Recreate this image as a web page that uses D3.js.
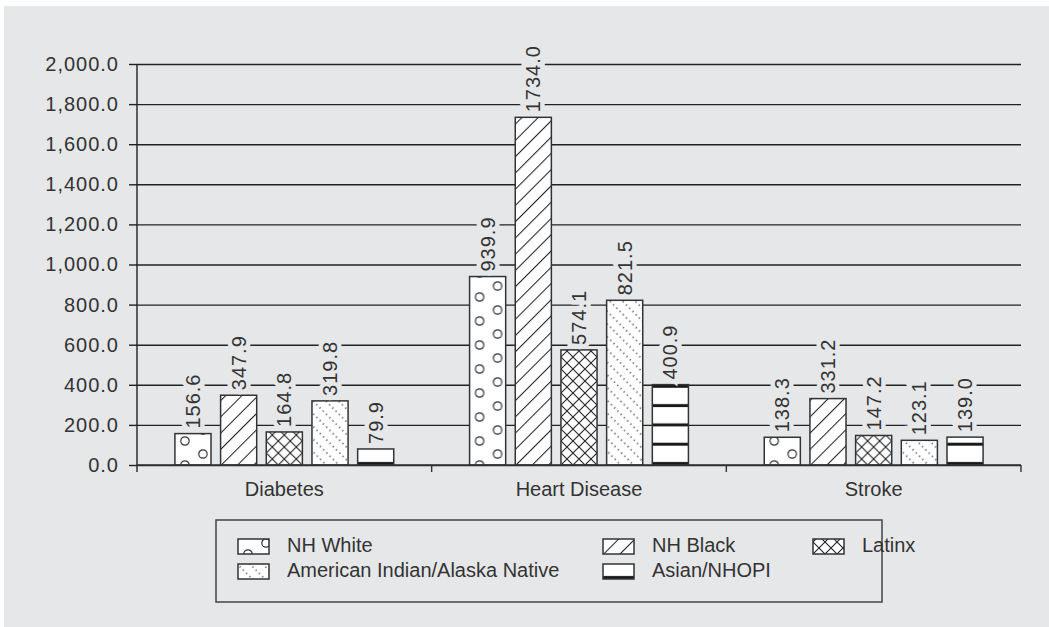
<!DOCTYPE html>
<html>
<head>
<meta charset="utf-8">
<script src="https://cdn.jsdelivr.net/npm/d3@7"></script>
<style>
    body { margin: 0; background: #fff; }
    svg { display: block; font-family: "Liberation Sans", Arial, sans-serif; }
    .tick text { fill: #333; }
</style>
</head>
<body>
<div id="chart"></div>
<script>
// chart data
var categories = ["Diabetes", "Heart Disease", "Stroke"];
var seriesNames = ["NH White", "NH Black", "Latinx", "American Indian/Alaska Native", "Asian/NHOPI"];
var nhWhite = [156.6, 939.9, 138.3];
var nhBlack = [347.9, 1734.0, 331.2];
var latinx = [164.8, 574.1, 147.2];
var aian = [319.8, 821.5, 123.1];
var asianNhopi = [79.9, 400.9, 139.0];
var seriesValues = [nhWhite, nhBlack, latinx, aian, asianNhopi];
var yTicks = [0, 200, 400, 600, 800, 1000, 1200, 1400, 1600, 1800, 2000];

// dimensions
var W = 1049, H = 627;
var bg = "#e6e7e9", ink = "#333";
var plot = { left: 137, right: 1021, top: 64, bottom: 465 };

var svg = d3.select("#chart").append("svg")
    .attr("width", W)
    .attr("height", H);

// grey panel
svg.append("rect")
    .attr("x", 4).attr("y", 6)
    .attr("width", W - 4).attr("height", H - 6)
    .attr("fill", bg);

// patterns (each bar's group origin sits on the baseline, so tiles line up from the bottom)
var defs = svg.append("defs");

var pWhite = defs.append("pattern").attr("id", "p0")
    .attr("patternUnits", "userSpaceOnUse").attr("width", 36).attr("height", 24);
pWhite.append("rect").attr("width", 36).attr("height", 24).attr("fill", "#fff");
[[10, 0], [10, 24], [28, 13]].forEach(function (c) {
    pWhite.append("circle").attr("cx", c[0]).attr("cy", c[1]).attr("r", 4.2)
        .attr("fill", "none").attr("stroke", "#333").attr("stroke-width", 1.2);
});

var pBlack = defs.append("pattern").attr("id", "p1")
    .attr("patternUnits", "userSpaceOnUse").attr("width", 11.5).attr("height", 10)
    .attr("patternTransform", "rotate(45)");
pBlack.append("rect").attr("width", 11.5).attr("height", 10).attr("fill", "#fff");
pBlack.append("line").attr("x1", 0.5).attr("x2", 0.5).attr("y1", 0).attr("y2", 10)
    .attr("stroke", "#222").attr("stroke-width", 1.1);

var pLat = defs.append("pattern").attr("id", "p2")
    .attr("patternUnits", "userSpaceOnUse").attr("width", 12).attr("height", 12);
pLat.append("rect").attr("width", 12).attr("height", 12).attr("fill", "#fff");
pLat.append("path").attr("d", "M0,0L12,12M12,0L0,12")
    .attr("stroke", "#222").attr("stroke-width", 1.1);

var pDots = defs.append("pattern").attr("id", "p3")
    .attr("patternUnits", "userSpaceOnUse").attr("width", 9).attr("height", 4.6)
    .attr("patternTransform", "rotate(-45)");
pDots.append("rect").attr("width", 9).attr("height", 4.6).attr("fill", "#fff");
pDots.append("rect").attr("x", 0.4).attr("y", 1.5).attr("width", 1.3).attr("height", 1.3)
    .attr("fill", "#333");

var pBand = defs.append("pattern").attr("id", "p4")
    .attr("patternUnits", "userSpaceOnUse").attr("width", 10).attr("height", 19.3);
pBand.append("rect").attr("width", 10).attr("height", 19.3).attr("fill", "#fff");
pBand.append("rect").attr("y", 16.3).attr("width", 10).attr("height", 3).attr("fill", "#1a1a1a");

// scales
var x0 = d3.scaleBand()
    .domain(categories)
    .range([plot.left, plot.right]);

var x1 = d3.scaleBand()
    .domain(seriesNames)
    .range([0, x0.bandwidth()])
    .paddingInner(0.21)
    .paddingOuter(0.83);

var y = d3.scaleLinear()
    .domain([0, 2000])
    .range([plot.bottom, plot.top]);

// gridlines
svg.append("g")
    .attr("transform", "translate(" + plot.left + ",0)")
    .call(d3.axisLeft(y).tickValues(yTicks).tickSize(-(plot.right - plot.left)).tickFormat(""))
    .call(function (g) { g.select(".domain").remove(); })
    .selectAll("line")
    .attr("stroke", "#222")
    .attr("stroke-width", 1.4);

// y axis with labels
var yAxis = svg.append("g")
    .attr("transform", "translate(" + plot.left + ",0)")
    .call(d3.axisLeft(y).tickValues(yTicks).tickSize(8).tickPadding(10).tickFormat(d3.format(",.1f")));
yAxis.select(".domain").remove();
yAxis.selectAll("line").attr("stroke", "#222").attr("stroke-width", 1.4);
yAxis.selectAll("text")
    .attr("font-size", 20)
    .attr("letter-spacing", 1)
    .attr("font-family", "Liberation Sans, Arial, sans-serif");

svg.append("line")
    .attr("x1", plot.left).attr("x2", plot.left)
    .attr("y1", y(2000)).attr("y2", y(0) + 7)
    .attr("stroke", "#222").attr("stroke-width", 1.4);

// bars
var catGroups = svg.selectAll(".cat")
    .data(categories)
    .enter()
    .append("g")
    .attr("class", "cat");

var bars = catGroups.selectAll(".bar")
    .data(function (c, ci) {
        return seriesNames.map(function (s, si) {
            return { cat: c, series: s, si: si, value: seriesValues[si][ci] };
        });
    })
    .enter()
    .append("g")
    .attr("class", "bar")
    .attr("transform", function (d) {
        return "translate(" + (x0(d.cat) + x1(d.series)) + "," + y(0) + ")";
    });

bars.append("rect")
    .attr("x", 0)
    .attr("y", function (d) { return y(d.value) - y(0); })
    .attr("width", x1.bandwidth())
    .attr("height", function (d) { return y(0) - y(d.value); })
    .attr("fill", function (d) { return "url(#p" + d.si + ")"; })
    .attr("stroke", "#333")
    .attr("stroke-width", 1.5);

// value labels, rotated
bars.append("text")
    .attr("transform", function (d) {
        return "translate(" + (x1.bandwidth() / 2) + "," + (y(d.value) - y(0) - 5) + ") rotate(-90)";
    })
    .attr("dy", "0.35em")
    .attr("font-size", 20)
    .attr("letter-spacing", 1)
    .attr("fill", ink)
    .attr("stroke", bg)
    .attr("stroke-width", 9)
    .attr("paint-order", "stroke")
    .text(function (d) { return d3.format(".1f")(d.value); });

// x axis
svg.append("line")
    .attr("x1", plot.left).attr("x2", plot.right)
    .attr("y1", y(0)).attr("y2", y(0))
    .attr("stroke", "#333").attr("stroke-width", 1.4);

var bounds = categories.map(function (c) { return x0(c); }).concat([plot.right]);
svg.selectAll(".xtick")
    .data(bounds.slice(1))
    .enter()
    .append("line")
    .attr("x1", function (d) { return d; }).attr("x2", function (d) { return d; })
    .attr("y1", y(0)).attr("y2", y(0) + 7)
    .attr("stroke", "#333").attr("stroke-width", 1.4);

svg.selectAll(".xlabel")
    .data(categories)
    .enter()
    .append("text")
    .attr("x", function (d) { return x0(d) + x0.bandwidth() / 2; })
    .attr("y", 496)
    .attr("text-anchor", "middle")
    .attr("font-size", 20)
    .attr("fill", ink)
    .text(function (d) { return d; });

// legend
svg.append("rect")
    .attr("x", 216).attr("y", 520)
    .attr("width", 666).attr("height", 82)
    .attr("fill", "none")
    .attr("stroke", "#444")
    .attr("stroke-width", 1.5);

var legendPos = [[238, 554], [603, 554], [813, 554], [238, 579], [603, 579]];

var legend = svg.selectAll(".legend")
    .data(seriesNames)
    .enter()
    .append("g")
    .attr("class", "legend")
    .attr("transform", function (d, i) {
        return "translate(" + legendPos[i][0] + "," + legendPos[i][1] + ")";
    });

legend.append("rect")
    .attr("x", 0).attr("y", -15)
    .attr("width", 31).attr("height", 15)
    .attr("fill", function (d, i) { return "url(#p" + i + ")"; })
    .attr("stroke", "#333")
    .attr("stroke-width", 1.5);

legend.append("text")
    .attr("x", 49)
    .attr("y", -2)
    .attr("font-size", 20)
    .attr("fill", ink)
    .text(function (d) { return d; });
</script>
</body>
</html>
